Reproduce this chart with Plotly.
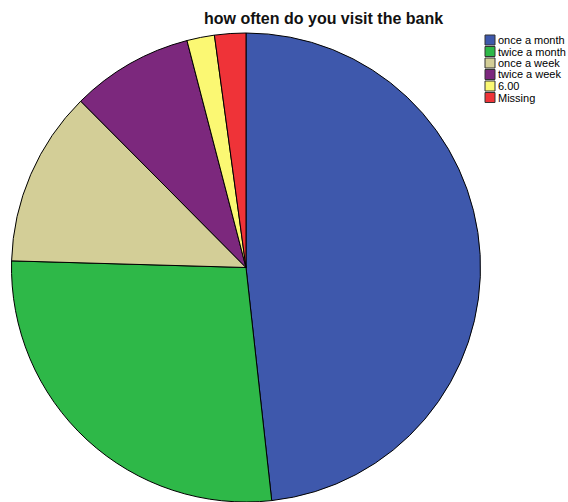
import plotly.graph_objects as go

title = "how often do you visit the bank"
labels = ["once a month", "twice a month", "once a week", "twice a week", "6.00", "Missing"]
values = [48.25, 27.2, 12.1, 8.4, 1.9, 2.15]
colors = ["#3E58AC", "#2EB848", "#D3CE97", "#7C287D", "#FBF873", "#EF3338"]

W, H = 568, 502
FONT = "Liberation Sans, Arial, sans-serif"

fig = go.Figure(go.Pie(
    labels=labels, values=values, sort=False, direction="clockwise", rotation=0,
    marker=dict(colors=colors, line=dict(color="#000000", width=1)),
    textinfo="none", hoverinfo="label+percent", showlegend=False,
    domain=dict(x=[11.5 / W, 480.5 / W], y=[0, (H - 33) / H]),
))

shapes = []
annotations = [dict(text="<b>" + title + "</b>", x=323.5 / W, y=1 - 19 / H, xref="paper", yref="paper",
                    xanchor="center", yanchor="middle", showarrow=False,
                    font=dict(family=FONT, size=16, color="#111111"))]
y0 = 40
step = 11.5
for i, (lab, col) in enumerate(zip(labels, colors)):
    yc = y0 + i * step
    shapes.append(dict(type="rect", xref="paper", yref="paper",
                       x0=485 / W, x1=495 / W, y0=1 - (yc - 5) / H, y1=1 - (yc + 5) / H,
                       fillcolor=col, line=dict(color="#333333", width=1)))
    annotations.append(dict(text=lab, x=496 / W, y=1 - yc / H, xref="paper", yref="paper",
                            xanchor="left", yanchor="middle", showarrow=False,
                            font=dict(family=FONT, size=11, color="#000000")))

fig.update_layout(
    width=W, height=H, margin=dict(l=0, r=0, t=0, b=0, pad=0),
    paper_bgcolor="white", plot_bgcolor="white", showlegend=False,
    shapes=shapes, annotations=annotations,
)
fig.write_html("out.html", config={"displayModeBar": False},
               post_script="document.body.style.margin='0';document.body.style.overflow='hidden';")
